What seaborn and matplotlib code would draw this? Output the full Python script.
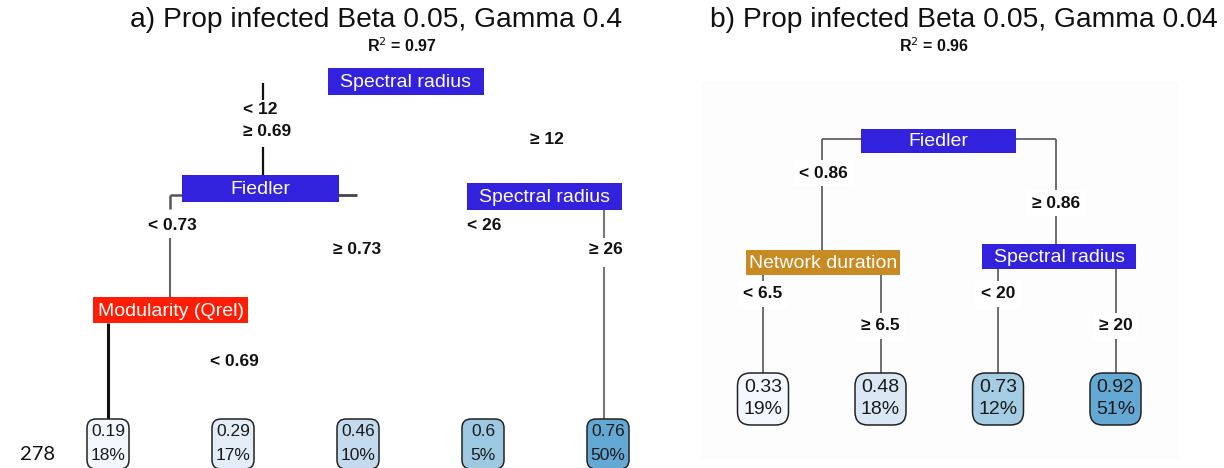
import matplotlib
matplotlib.use("Agg")
import matplotlib.pyplot as plt
from matplotlib.patches import FancyBboxPatch, Rectangle
import seaborn as sns

# ---------------- data ----------------
titles = ["a) Prop infected Beta 0.05, Gamma 0.4", "b) Prop infected Beta 0.05, Gamma 0.04"]
r2_values = [0.97, 0.96]

# tree a: split variables, branch labels and leaves
a_split_vars = ["Spectral radius", "Fiedler", "Spectral radius", "Modularity (Qrel)"]
a_branch_labels = ["< 12", "≥ 0.69", "≥ 12", "< 0.73", "≥ 0.73", "< 26", "≥ 26", "< 0.69"]
a_leaf_values = [0.19, 0.29, 0.46, 0.6, 0.76]
a_leaf_pct = [18, 17, 10, 5, 50]

# tree b
b_split_vars = ["Fiedler", "Network duration", "Spectral radius"]
b_branch_labels = ["< 0.86", "≥ 0.86", "< 6.5", "≥ 6.5", "< 20", "≥ 20"]
b_leaf_values = [0.33, 0.48, 0.73, 0.92]
b_leaf_pct = [19, 18, 12, 51]

page_number = "278"

# ---------------- style ----------------
sns.set_theme(style="white")
plt.rcParams["font.family"] = ["Liberation Sans", "DejaVu Sans"]

var_colors = {
    "Spectral radius": "#3222DE",
    "Fiedler": "#3222DE",
    "Modularity (Qrel)": "#FF1E05",
    "Network duration": "#C88A22",
}
leaf_cmap = sns.color_palette("Blues", as_cmap=True)

fig = plt.figure(figsize=(12.24, 4.68), dpi=100)
ax = fig.add_axes([0, 0, 1, 1])
ax.set_xlim(0, 1224)
ax.set_ylim(468, 0)
ax.axis("off")


def split_box(name, x0, x1, y0, y1):
    ax.add_patch(Rectangle((x0, y0), x1 - x0, y1 - y0, facecolor=var_colors[name],
                           edgecolor="none", zorder=3))
    ax.text((x0 + x1) / 2, (y0 + y1) / 2 + 1, name, color="white", fontsize=14,
            ha="center", va="center", zorder=4)


def seg(x0, y0, x1, y1, color="#5a5a5a", lw=1.2):
    ax.plot([x0, x1], [y0, y1], color=color, lw=lw, solid_capstyle="butt", zorder=2)


def branch_label(text, x, y, ha="center"):
    ax.text(x, y, text, fontsize=12.5, fontweight="bold", color="#111111",
            ha=ha, va="center", zorder=5)


def leaves(values, pcts, xs, y0, h, w, dy_val, dy_pct, fs, rnd):
    vmin, vmax = min(values), max(values)
    for v, p, x in zip(values, pcts, xs):
        t = 0.02 + 0.5 * (v - vmin) / (vmax - vmin)
        ax.add_patch(FancyBboxPatch((x - w / 2, y0), w, h,
                                    boxstyle=f"round,pad=0,rounding_size={rnd}",
                                    facecolor=leaf_cmap(t), edgecolor="#222222",
                                    lw=1.1, zorder=3))
        ax.text(x, y0 + dy_val, f"{v:g}", fontsize=fs, color="#1a1a1a",
                ha="center", va="center", zorder=4)
        ax.text(x, y0 + dy_pct, f"{p}%", fontsize=fs, color="#1a1a1a",
                ha="center", va="center", zorder=4)


# ---------------- panel a ----------------
ax.text(376, 20, titles[0], fontsize=20.3, ha="center", va="center", color="#111111")
ax.text(402, 46, f"R$^2$ = {r2_values[0]:.2f}", fontsize=11.5, fontweight="bold",
        ha="center", va="center", color="#111111")

seg(263, 83, 263, 100, color="#111111", lw=1.6)
seg(263, 147, 263, 175, color="#111111", lw=1.6)
seg(338, 195, 357, 195, color="#444444", lw=2.0)
seg(170, 195, 182, 195, color="#555555", lw=1.8)
seg(170, 195, 170, 209, color="#555555", lw=1.8)
seg(170, 238, 170, 297, color="#666666", lw=1.5)
seg(604, 210, 604, 238, color="#777777", lw=1.5)
seg(604, 267, 604, 420, color="#777777", lw=1.5)
seg(108, 323, 108, 420, color="#111111", lw=2.2)

split_box(a_split_vars[0], 328, 484, 68, 95)
split_box(a_split_vars[1], 182, 339, 175, 202)
split_box(a_split_vars[2], 467, 622, 183, 210)
split_box(a_split_vars[3], 93, 248, 297, 323)

a_label_pos = [(243, 110, "left"), (243, 132, "left"), (530, 139, "left"),
               (148, 225, "left"), (333, 250, "left"), (467, 225, "left"),
               (589, 250, "left"), (210, 362, "left")]
for lab, (x, y, ha) in zip(a_branch_labels, a_label_pos):
    branch_label(lab, x, y, ha)

a_leaf_x = [108 + 125 * i for i in range(len(a_leaf_values))]
leaves(a_leaf_values, a_leaf_pct, a_leaf_x, 419, 50, 42, 13, 36, 12.5, 9)

# ---------------- panel b ----------------
ax.add_patch(Rectangle((702, 82), 475, 375, facecolor="#fdfdfd", edgecolor="#fafafa",
                       lw=0.8, zorder=0))
ax.text(964, 20, titles[1], fontsize=20.3, ha="center", va="center", color="#111111")
ax.text(934, 46, f"R$^2$ = {r2_values[1]:.2f}", fontsize=11.5, fontweight="bold",
        ha="center", va="center", color="#111111")

b_leaf_x = [763 + 117.5 * i for i in range(len(b_leaf_values))]

gray = "#555555"
# root split
seg(822, 139, 1056, 139, color=gray)
seg(822, 139, 822, 250, color=gray)
seg(1056, 139, 1056, 244, color=gray)
# second level
for xl, ytop in [(b_leaf_x[0], 275), (b_leaf_x[1], 275), (b_leaf_x[2], 269), (b_leaf_x[3], 269)]:
    seg(xl, ytop, xl, 373, color=gray)

split_box(b_split_vars[0], 861, 1016, 129, 153)
split_box(b_split_vars[1], 746, 900, 250, 275)
split_box(b_split_vars[2], 982, 1136, 244, 269)

b_label_pos = [(823, 173), (1056, 203), (b_leaf_x[0], 294), (b_leaf_x[1], 326),
               (b_leaf_x[2], 294), (b_leaf_x[3], 326)]
for lab, (x, y) in zip(b_branch_labels, b_label_pos):
    ax.text(x, y, lab, fontsize=12.5, fontweight="bold", color="#111111",
            ha="center", va="center", zorder=5,
            bbox=dict(facecolor="white", edgecolor="none", pad=4))

leaves(b_leaf_values, b_leaf_pct, b_leaf_x, 373, 52, 51, 14, 37, 14, 13)

# page number
ax.text(20, 455, page_number, fontsize=14.5, family=["Lato", "DejaVu Sans"],
        ha="left", va="center", color="#111111")

fig.savefig("out.png", dpi=100)
